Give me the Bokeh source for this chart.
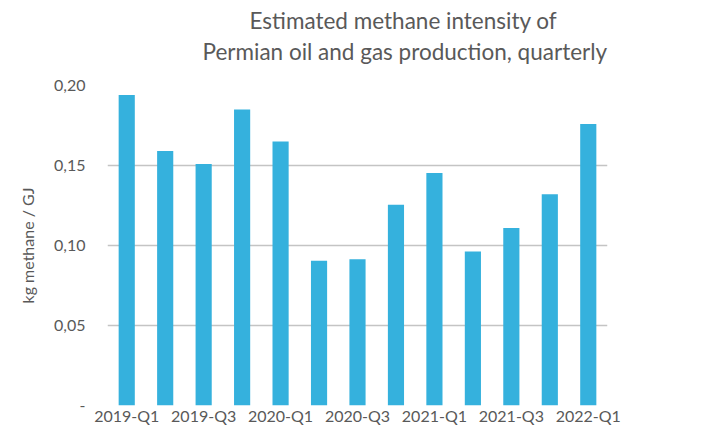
from bokeh.plotting import figure
from bokeh.models import FixedTicker, Title, Range1d
from bokeh.embed import file_html
from bokeh.resources import INLINE

quarters = ["2019-Q1", "2019-Q2", "2019-Q3", "2019-Q4",
            "2020-Q1", "2020-Q2", "2020-Q3", "2020-Q4",
            "2021-Q1", "2021-Q2", "2021-Q3", "2021-Q4", "2022-Q1"]
intensity = [0.194, 0.159, 0.151, 0.185, 0.165, 0.0905, 0.0914,
             0.1255, 0.1453, 0.0963, 0.111, 0.132, 0.176]
y_ticks = [0.0, 0.05, 0.10, 0.15, 0.20]
y_tick_labels = ["-", "0,05", "0,10", "0,15", "0,20"]
shown_x_labels = ["2019-Q1", "2019-Q3", "2020-Q1", "2020-Q3", "2021-Q1", "2021-Q3", "2022-Q1"]
title_lines = ["Estimated methane intensity of", "Permian oil and gas production, quarterly"]

FONT = "Lato"
GREY = "#595959"

xpos = list(range(len(quarters)))

p = figure(width=716, height=427, output_backend="svg", toolbar_location=None, title=None,
           x_range=Range1d(-0.5, len(quarters) - 0.5), y_range=Range1d(0, 0.2),
           min_border_left=107, min_border_right=109, min_border_top=85, min_border_bottom=0)
p.outline_line_color = None

p.vbar(x=xpos, top=intensity, width=0.42, color="#35B1DD", line_color=None)

# title: spacer next to the frame, then line 2, then line 1 (stacked outward)
spacer = Title(text=" ", text_font_size="1px", standoff=17)
t2 = Title(text=title_lines[1], align="left", offset=95, standoff=2,
           text_font=FONT, text_font_size="22.5px", text_font_style="normal", text_color=GREY)
t1 = Title(text=title_lines[0], align="left", offset=142, standoff=2,
           text_font=FONT, text_font_size="22.5px", text_font_style="normal", text_color=GREY)
p.add_layout(spacer, "above")
p.add_layout(t2, "above")
p.add_layout(t1, "above")

# y axis
p.yaxis.ticker = FixedTicker(ticks=y_ticks)
p.yaxis.major_label_overrides = {v: s for v, s in zip(y_ticks, y_tick_labels)}
p.yaxis.axis_label = "kg methane / GJ"
p.yaxis.axis_label_text_font = FONT
p.yaxis.axis_label_text_font_size = "16px"
p.yaxis.axis_label_text_font_style = "normal"
p.yaxis.axis_label_text_color = GREY
p.yaxis.axis_label_standoff = 14
p.yaxis.major_label_text_font = FONT
p.yaxis.major_label_text_font_size = "16px"
p.yaxis.major_label_text_color = GREY
p.yaxis.major_label_standoff = 22
p.yaxis.axis_line_color = None
p.yaxis.major_tick_line_color = None
p.yaxis.minor_tick_line_color = None
p.yaxis.major_tick_out = 0
p.yaxis.major_tick_in = 0

# x axis
shown_idx = [i for i, q in enumerate(quarters) if q in shown_x_labels]
p.xaxis.ticker = FixedTicker(ticks=shown_idx)
p.xaxis.major_label_overrides = {i: quarters[i] for i in shown_idx}
p.xaxis.major_label_text_font = FONT
p.xaxis.major_label_text_font_size = "16px"
p.xaxis.major_label_text_color = GREY
p.xaxis.major_label_standoff = 0
p.xaxis.axis_line_color = None
p.xaxis.major_tick_line_color = None
p.xaxis.minor_tick_line_color = None
p.xaxis.major_tick_out = 0
p.xaxis.major_tick_in = 0

p.xgrid.grid_line_color = None
p.ygrid.grid_line_color = "#c4c4c4"
p.ygrid.grid_line_width = 1.5

open("out.html", "w").write(file_html(p, INLINE))
